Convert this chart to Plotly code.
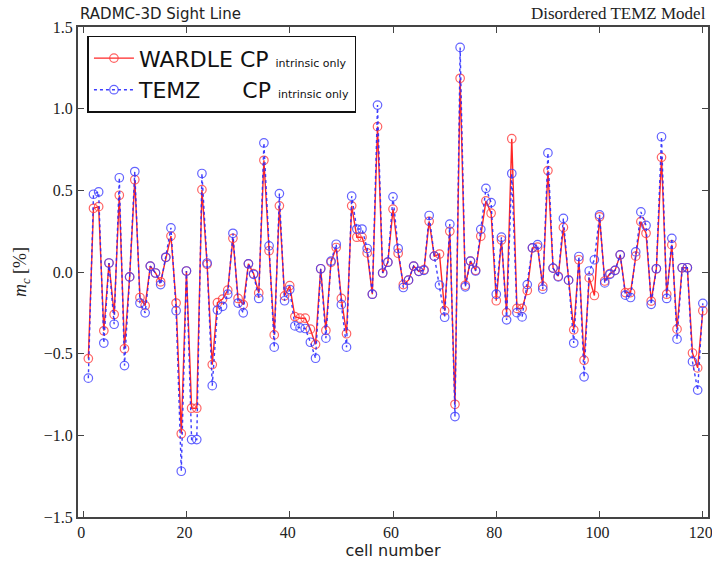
import plotly.graph_objects as go

cells = list(range(1, 121))

wardle = [
    -0.53, 0.39, 0.40, -0.36, 0.055, -0.26, 0.47, -0.47, -0.03, 0.565,
    -0.156, -0.206, 0.036, -0.006, -0.06, 0.09, 0.22, -0.19, -0.99, 0.006,
    -0.834, -0.834, 0.504, 0.047, -0.567, -0.188, -0.166, -0.111, 0.206, -0.162,
    -0.20, 0.05, -0.01, -0.128, 0.684, 0.13, -0.385, 0.405, -0.146, -0.083,
    -0.273, -0.283, -0.283, -0.35, -0.443, 0.02, -0.358, 0.06, 0.15, -0.162,
    -0.378, 0.405, 0.213, 0.213, 0.117, -0.136, 0.89, -0.006, 0.06, 0.385,
    0.115, -0.077, -0.05, 0.036, 0.004, 0.014, 0.31, 0.097, 0.11, -0.237,
    0.249, -0.81, 1.186, -0.081, 0.067, 0.01, 0.219, 0.435, 0.36, -0.176,
    0.196, -0.249, 0.816, -0.223, -0.223, -0.113, 0.148, 0.152, -0.087, 0.621,
    0.024, -0.026, 0.273, -0.05, -0.354, 0.075, -0.54, -0.036, -0.144, 0.338,
    -0.055, -0.01, 0.01, 0.105, -0.126, -0.126, 0.097, 0.308, 0.237, -0.178,
    0.02, 0.702, -0.136, 0.166, -0.35, 0.026, 0.026, -0.496, -0.587, -0.237,
]

temz = [
    -0.65, 0.476, 0.49, -0.435, 0.055, -0.32, 0.577, -0.573, -0.03, 0.615,
    -0.19, -0.25, 0.036, -0.006, -0.077, 0.09, 0.27, -0.237, -1.22, 0.006,
    -1.026, -1.026, 0.603, 0.055, -0.696, -0.233, -0.21, -0.136, 0.237, -0.19,
    -0.25, 0.05, -0.014, -0.162, 0.79, 0.16, -0.46, 0.48, -0.176, -0.107,
    -0.33, -0.342, -0.346, -0.43, -0.528, 0.02, -0.405, 0.067, 0.17, -0.20,
    -0.46, 0.464, 0.263, 0.263, 0.144, -0.136, 1.022, -0.006, 0.06, 0.46,
    0.144, -0.095, -0.05, 0.036, 0.004, 0.01, 0.346, 0.097, -0.08, -0.277,
    0.293, -0.885, 1.375, -0.091, 0.067, 0.006, 0.261, 0.512, 0.425, -0.136,
    0.213, -0.293, 0.603, -0.249, -0.275, -0.077, 0.148, 0.168, -0.105, 0.729,
    0.024, -0.03, 0.328, -0.05, -0.435, 0.095, -0.642, 0.006, 0.075, 0.35,
    -0.067, -0.014, 0.01, 0.105, -0.142, -0.156, 0.123, 0.368, 0.285, -0.198,
    0.02, 0.828, -0.162, 0.206, -0.411, 0.026, 0.026, -0.549, -0.723, -0.192,
]

x_ticks = [0, 20, 40, 60, 80, 100, 120]
y_ticks = [-1.5, -1.0, -0.5, 0.0, 0.5, 1.0, 1.5]

small = "<span style='font-size:11px'>intrinsic only</span>"

fig = go.Figure()
fig.add_trace(go.Scatter(
    x=cells, y=wardle, mode="lines+markers",
    name="WARDLE CP " + small,
    line=dict(color="rgba(255,0,0,0.85)", width=1.4, dash="solid"),
    marker=dict(symbol="circle-open", size=8.5, color="rgba(255,60,60,0.8)",
                line=dict(width=1.2)),
))
fig.add_trace(go.Scatter(
    x=cells, y=temz, mode="lines+markers",
    name="TEMZ" + "&nbsp;" * 6 + "CP " + small,
    line=dict(color="rgba(40,40,255,0.9)", width=1.4, dash="dot"),
    marker=dict(symbol="circle-open", size=8.5, color="rgba(60,60,255,0.8)",
                line=dict(width=1.2)),
))

axis_common = dict(
    showgrid=False, zeroline=False, showline=True, mirror="ticks",
    linecolor="#444", linewidth=2, ticks="inside", ticklen=6,
    tickcolor="#444", tickwidth=1, automargin=False,
    tickfont=dict(family="Liberation Serif", size=16, color="#222"),
)

fig.update_layout(
    width=712, height=565,
    margin=dict(l=78, r=4, t=27, b=48),
    paper_bgcolor="white", plot_bgcolor="white",
    showlegend=True,
    legend=dict(
        x=0.015, y=0.982, xanchor="left", yanchor="top",
        bordercolor="#111", borderwidth=1.5, bgcolor="white",
        font=dict(family="DejaVu Sans", size=22, color="#111"),
        tracegroupgap=0, itemwidth=40,
    ),
    xaxis=dict(
        range=[-1, 121], tickvals=x_ticks, ticktext=[str(v) for v in x_ticks],
        ticklabeloverflow="allow", ticklabelshift=-2,
        title=dict(text="cell number", font=dict(family="DejaVu Sans", size=16, color="#222"),
                   standoff=4),
        **axis_common,
    ),
    yaxis=dict(
        range=[-1.5, 1.5], tickvals=y_ticks, tickformat=".1f",
        title=dict(text="<i>m<sub>c</sub></i> [%]",
                   font=dict(family="Liberation Serif", size=18, color="#222"), standoff=12),
        **axis_common,
    ),
    annotations=[
        dict(text="RADMC-3D Sight Line", x=0, y=1, xref="paper", yref="paper",
             xanchor="left", yanchor="bottom", showarrow=False, yshift=2,
             font=dict(family="DejaVu Sans", size=15, color="#222")),
        dict(text="Disordered TEMZ Model", x=1, y=1, xref="paper", yref="paper",
             xanchor="right", yanchor="bottom", showarrow=False, yshift=2,
             font=dict(family="Liberation Serif", size=17, color="#222")),
    ],
)

fig.write_html("out.html",
               config={"displayModeBar": False},
               post_script="document.body.style.margin='0';document.body.style.overflow='hidden';")
